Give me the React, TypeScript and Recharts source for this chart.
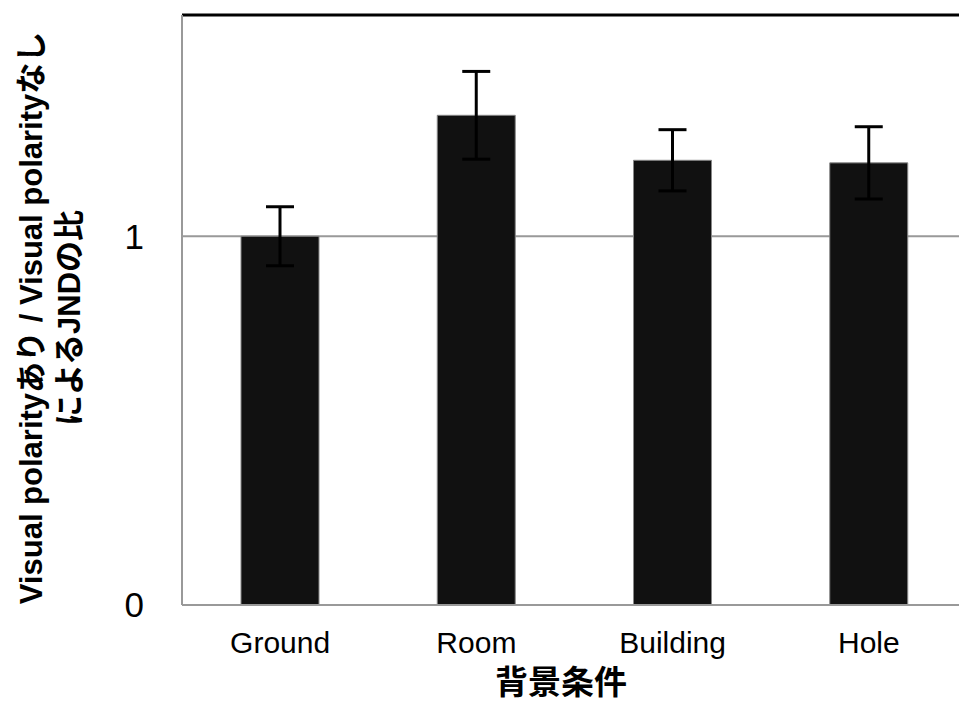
import * as React from 'react';
import {
  BarChart,
  Bar,
  XAxis,
  YAxis,
  CartesianGrid,
  ErrorBar,
  ReferenceLine,
} from 'recharts';

const conditions = ['Ground', 'Room', 'Building', 'Hole'];
const ratios = [1.0, 1.328, 1.206, 1.199];
const errors = [0.08, 0.119, 0.083, 0.098];
const yTicks = [0, 1];

const data = conditions.map((c, i) => ({ name: c, ratio: ratios[i], err: errors[i] }));

const latin = '"Liberation Sans", Arial, "Noto Sans CJK JP", sans-serif';

const YTitle = (props: any) => {
  const { viewBox } = props;
  const cy = viewBox.y + viewBox.height / 2 + 8;
  return (
    <text
      transform={`translate(0, ${cy}) rotate(-90)`}
      textAnchor="middle"
      fontFamily={latin}
      fontWeight="bold"
      fontSize={31}
      fill="#000"
    >
      <tspan x={0} y={42}>Visual polarityあり / Visual polarityなし</tspan>
      <tspan x={0} y={80}>によるJNDの比</tspan>
    </text>
  );
};

const XTitle = (props: any) => {
  const { viewBox } = props;
  return (
    <text
      x={561}
      y={viewBox.y + 89}
      textAnchor="middle"
      fontFamily='"Noto Sans CJK JP", sans-serif'
      fontWeight="bold"
      fontSize={33}
      fill="#000"
    >
      背景条件
    </text>
  );
};

export default function App() {
  return (
    <div style={{ position: 'absolute', left: 0, top: 0, width: 959, height: 708, overflow: 'hidden', background: '#fff' }}>
      <BarChart
        width={980}
        height={708}
        data={data}
        margin={{ top: 15, right: 13, left: 0, bottom: 0 }}
        barSize={78}
      >
        <CartesianGrid vertical={false} stroke="#999" strokeWidth={2} />
        <XAxis
          dataKey="name"
          height={103}
          axisLine={{ stroke: '#999', strokeWidth: 2 }}
          tickLine={false}
          tick={{ fill: '#000', fontSize: 30, fontFamily: latin }}
          tickMargin={21}
          label={<XTitle />}
        />
        <YAxis
          width={182}
          domain={[0, 1.6]}
          ticks={yTicks}
          allowDataOverflow
          axisLine={{ stroke: '#999', strokeWidth: 2 }}
          tickLine={false}
          tick={{ fill: '#000', fontSize: 35, fontFamily: latin }}
          tickMargin={32}
          label={<YTitle />}
        />
        <ReferenceLine y={1.6} stroke="#000" strokeWidth={3} />
        <Bar dataKey="ratio" fill="#111" stroke="#888" strokeWidth={1} isAnimationActive={false}>
          <ErrorBar dataKey="err" width={14} stroke="#000" strokeWidth={3} isAnimationActive={false} />
        </Bar>
      </BarChart>
    </div>
  );
}
